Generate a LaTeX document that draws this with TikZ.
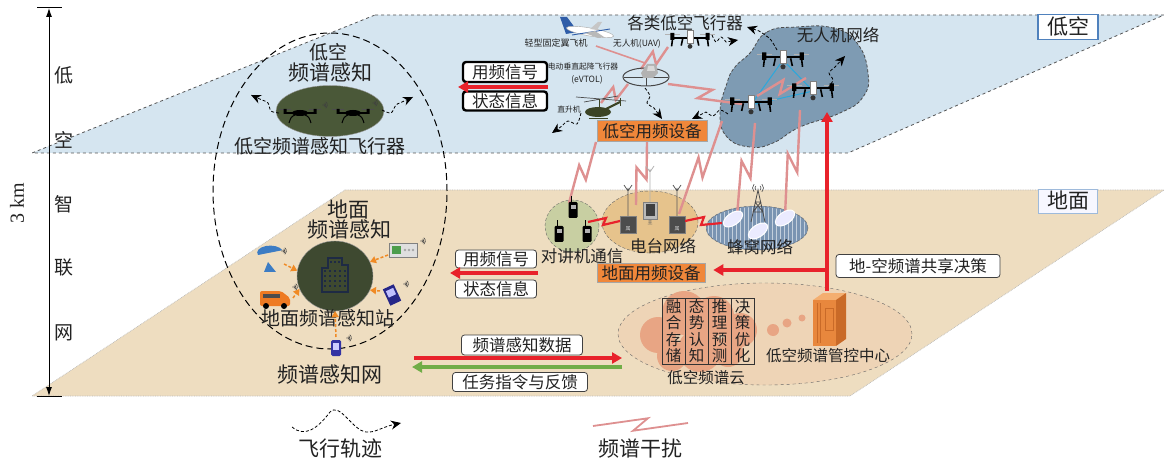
\documentclass[tikz,border=0pt]{standalone}
\usepackage{fontspec}
\setmainfont{Liberation Serif}
\newfontfamily\cjk{Noto Sans CJK SC}
\usetikzlibrary{calc,arrows.meta,shapes.geometric}

\definecolor{skyplane}{HTML}{D5E5F0}
\definecolor{groundplane}{HTML}{EEDDC0}
\definecolor{planeedge}{HTML}{555555}
\definecolor{sensgreen}{HTML}{4A5838}
\definecolor{stationgreen}{HTML}{3E4930}
\definecolor{uavblob}{HTML}{7E9BB3}
\definecolor{devorange}{HTML}{F0873A}
\definecolor{walkiefill}{HTML}{C8CFA2}
\definecolor{radiofill}{HTML}{E6C38C}
\definecolor{cellfill}{HTML}{7A94B2}
\definecolor{cloudfill}{HTML}{EED4B6}
\definecolor{cloudblob}{HTML}{E8A584}
\definecolor{zapcol}{HTML}{DE9090}
\definecolor{sigred}{HTML}{E8222B}
\definecolor{siggreen}{HTML}{70AD47}
\definecolor{linkblue}{HTML}{2AA8DC}
\definecolor{labelblue}{HTML}{4F81BD}
\definecolor{txt}{HTML}{222222}
\definecolor{arrorange}{HTML}{F08A24}
\definecolor{planeblue}{HTML}{2F5DA8}
\definecolor{heli}{HTML}{3C4426}
\definecolor{dishblue}{HTML}{3C7CC4}
\definecolor{vanorange}{HTML}{EE7A22}
\definecolor{navy}{HTML}{1E2A44}
\definecolor{cabfront}{HTML}{E8873D}
\definecolor{cabside}{HTML}{C96A28}
\definecolor{cabtop}{HTML}{F4AE70}

% interference bolt: a straight link with a Z-shaped jog in the middle
\newcommand\intzap[3][]{%
  \draw[zapline,#1] (#2) -- ($(#2)!0.58!(#3)!6pt!90:(#3)$)
    -- ($(#2)!0.42!(#3)!6pt!-90:(#3)$) -- (#3);}

\tikzset{
  t16/.style={font=\cjk\fontsize{16.5}{18}\selectfont},
  t15/.style={font=\cjk\fontsize{15.5}{17}\selectfont},
  t19/.style={font=\cjk\fontsize{19}{21}\selectfont},
  t21/.style={font=\cjk\fontsize{21}{23}\selectfont},
  tiny9/.style={font=\cjk\fontsize{9}{10}\selectfont},
  tiny8/.style={font=\cjk\fontsize{7.8}{9}\selectfont},
  whitebox/.style={draw=black!75, fill=white, rounded corners=3pt, line width=.8, inner sep=0, t16},
  heavybox/.style={whitebox, line width=2.4, draw=black},
  orangebox/.style={fill=devorange, draw=gray!70, line width=.6, inner sep=0, t16},
  sigarrow/.style={draw=sigred, line width=3.2, -{Triangle[length=10pt,width=11pt]}},
  backarrow/.style={draw=siggreen, line width=3.2, -{Triangle[length=10pt,width=11pt]}},
  traj/.style={densely dashed, line width=.8, -{Stealth[length=10pt,width=9pt]}},
  sensarrow/.style={draw=arrorange, densely dashed, line width=1.5, -{Triangle[length=6pt,width=7pt]}},
  zapline/.style={draw=zapcol, line width=2.4},
  redzap/.style={draw=sigred, line width=2.2},
  meshlink/.style={draw=linkblue, line width=1},
  colbox/.style={draw=black!80, line width=.8, minimum width=23, minimum height=66, inner sep=0, align=center, font=\cjk\fontsize{15.5}{16.3}\selectfont},
  pics/quad/.style={code={
    \draw[gray!60,line width=.7] (-31,-7) -- (-13,-7) (13,-7) -- (31,-7);
    \draw[black,line width=2] (-22,-3) -- (22,-3);
    \fill[black] (-24.5,-9) rectangle (-19.5,0) (19.5,-9) rectangle (24.5,0);
    \draw[black,line width=1.6] (-22,0) -- (-23,8) (22,0) -- (23,8) (-9,-2) -- (-11,7) (9,-2) -- (11,7);
    \filldraw[fill=white,draw=gray,line width=.5] (-3.5,-12) rectangle (3.5,4);
    \fill[black!80] (0,8) circle (3);
  }},
  pics/minidrone/.style={code={
    \draw[black!70,line width=.6] (-21,-4) -- (-9,-4) (9,-4) -- (21,-4);
    \draw[black,line width=1.3] (-15,0) -- (15,0);
    \fill[black] (-16.5,-4) rectangle (-13.5,1) (13.5,-4) rectangle (16.5,1);
    \fill[black] (0,0) ellipse (8 and 3);
    \draw[black,line width=1] (-5,2) .. controls (-9,4) .. (-11,10) (5,2) .. controls (9,4) .. (11,10);
  }},
  pics/sig/.style={code={
    \fill[black!75] (0,0) circle (.8);
    \foreach \rr in {2.2,4.2,6.2}{\draw[black!75,line width=.6] (-50:\rr) arc[start angle=-50,end angle=50,radius=\rr];}
  }},
  pics/walkie/.style={code={
    \draw[black,line width=1] (-2,-7) -- (-2,-13);
    \fill[black,rounded corners=1.2] (-4.5,-7) rectangle (4.5,9);
    \fill[gray!60] (-2.5,-4) rectangle (2.5,0);
  }},
}

\begin{document}
\begin{tikzpicture}[x=1pt,y=-1pt,every node/.style={text=txt}]
\useasboundingbox (0,0) rectangle (1164,462);
\fill[white] (0,0) rectangle (1164,462);

% ---------------- the two layers ----------------
\fill[groundplane] (345,190) -- (1164,190) -- (850,396) -- (32,396) -- cycle;
\draw[gray!55,densely dotted,line width=.7] (345,190) -- (1164,190) -- (850,396) -- (32,396) -- cycle;
\fill[skyplane] (375,15) -- (1164,15) -- (848,153) -- (32,153) -- cycle;
\draw[planeedge,dashed,line width=.8] (375,15) -- (1164,15) -- (848,153) -- (32,153) -- cycle;

% ---------------- altitude scale ----------------
\coordinate (altT) at (49,8);
\coordinate (altB) at (49,396);
\draw[line width=1] (37,8) -- (62,8) (37,396) -- (62,396);
\draw[line width=.9,{Latex[length=9pt,width=6pt]}-{Latex[length=9pt,width=6pt]}] (altT) -- (altB);
\node[rotate=90,font=\fontsize{20}{22}\selectfont] (altlbl) at (17,203) {3 km};
\node[t19] (c1) at (64,75) {低};
\node[t19] (c2) at (64,140) {空};
\node[t19] (c3) at (64,204) {智};
\node[t19] (c4) at (64,268) {联};
\node[t19] (c5) at (64,333) {网};

% ---------------- layer tags ----------------
\node[draw=labelblue,line width=1.4,fill=white,minimum width=60,minimum height=25,inner sep=0,t21] (lowlbl) at (1068,27) {低空};
\node[draw=labelblue!55,line width=.8,fill=blue!3,minimum width=59,minimum height=24,inner sep=0,t21] (gndlbl) at (1068,201) {地面};

% ---------------- spectrum sensing network ----------------
\node[ellipse,draw,dash pattern=on 7pt off 4pt,line width=1,minimum width=234,minimum height=316,inner sep=0] (sensnet) at (330,191) {};
\node[t19] (airsensA) at (328,52) {低空};
\node[t21] (airsensB) at (330,73) {频谱感知};
\node[ellipse,fill=sensgreen,draw=black!40,minimum width=108,minimum height=51,inner sep=0] (sensfly) at (330,111) {};
\pic at (300,113) {minidrone};
\pic at (353,113) {minidrone};
\pic[scale=.7] at (323,105) {sig};
\pic[scale=.7] at (373,103) {sig};
\node[t19] (sensflylbl) at (320,146) {低空频谱感知飞行器};
\coordinate (sflyL) at (251,95);
\coordinate (sflyR) at (413,97);
\draw[traj] plot[smooth] coordinates {(279,113) (271,111) (268,103) (262,100)} -- (sflyL);
\draw[traj] plot[smooth] coordinates {(382,110) (391,113) (396,105) (402,102)} -- (sflyR);

\node[t21] (gndsensA) at (348,210) {地面};
\node[t21] (gndsensB) at (349,230) {频谱感知};
\node[ellipse,fill=stationgreen,draw=black!40,minimum width=76,minimum height=70,inner sep=0] (station) at (335,276) {};
% building
\draw[navy,line width=1.3,line join=miter] (322,292) -- (322,268) -- (328,268) -- (328,258) -- (342,258) -- (342,265) -- (348,265) -- (348,292) -- cycle;
\foreach \xx in {325,330,335,340,345}{\foreach \yy in {271,276,281,286}{\fill[navy] (\xx-1,\yy-1) rectangle (\xx+1,\yy+1);}}
\foreach \xx in {331,335,339}{\fill[navy] (\xx-1,261) rectangle (\xx+1,263);}
\node[t19] (stationlbl) at (328,318) {地面频谱感知站};
\node[t21] (sensnetlbl) at (330,375) {频谱感知网};

% dish
\coordinate (dish) at (284,264);
\fill[dishblue] (258,255) arc[start angle=160,end angle=340,x radius=13,y radius=7] -- cycle;
\fill[dishblue] (268,262) -- (264,272) -- (276,272) -- cycle;
\pic[scale=.7] at (282,251) {sig};
% van
\coordinate (van) at (293,298);
\fill[vanorange,rounded corners=2] (260,291) -- (281,291) -- (290,298) -- (290,306) -- (260,306) -- cycle;
\fill[black!70] (263,294) rectangle (280,298);
\fill[black] (266,306) circle (3) (284,306) circle (3);
\pic[scale=.7] at (293,287) {sig};
% analyzer
\coordinate (analyzer) at (388,255);
\filldraw[fill=gray!25,draw=gray] (389,243) rectangle (417,257);
\fill[green!45!black!70] (392,246) rectangle (401,254);
\foreach \xx in {405,409,413}{\fill[gray!70] (\xx,250) circle (1.3);}
\pic[scale=.7] at (421,241) {sig};
% handheld analyser
\coordinate (tablet) at (380,291);
\fill[blue!45!black!85,rotate around={25:(392,295)}] (386,286) rectangle (398,304);
\fill[blue!25!white,rotate around={25:(392,295)}] (388,289) rectangle (396,296);
\pic[scale=.7] at (404,284) {sig};
% portable receiver
\coordinate (phone) at (336,337);
\fill[blue!55!black!80,rounded corners=1.5] (331,340) rectangle (341,356);
\fill[blue!20!white] (333,343) rectangle (339,350);
\pic[scale=.7] at (347,338) {sig};
\draw[sensarrow] (dish) -- (station.172);
\draw[sensarrow] (van) -- (station.200);
\draw[sensarrow] (analyzer) -- (station.22);
\draw[sensarrow] (tablet) -- (station.-22);
\draw[sensarrow] (phone) -- (station.south);

% ---------------- UAV network ----------------
\draw[fill=uavblob,draw=black!70,densely dashed,line width=.8] plot[smooth cycle,tension=.8] coordinates {(750,53) (767,32) (797,27) (833,28) (857,43) (868,73) (863,97) (840,113) (800,127) (773,143) (750,147) (727,137) (720,113) (727,83) (735,67)};
\node[t16] (uavnetlbl) at (838,35) {无人机网络};
\coordinate (d1) at (783,60);
\coordinate (d2) at (813,91);
\coordinate (d3) at (751,105);
\draw[meshlink] (d1) -- (d3) -- (d2) -- cycle;
\intzap{757,96}{806,78}

% ---------------- ground spectrum devices ----------------
\node[ellipse,fill=walkiefill,draw=black!60,densely dashed,minimum width=54,minimum height=52,inner sep=0] (walkienet) at (572,226) {};
\node[ellipse,fill=radiofill,draw=black!60,densely dashed,minimum width=96,minimum height=62,inner sep=0] (radionet) at (650,222) {};
\node[ellipse,fill=cellfill,draw=black!60,densely dashed,minimum width=102,minimum height=44,inner sep=0] (cellnet) at (757,228) {};
\begin{scope}
  \clip (757,228) ellipse (50 and 21);
  \draw[white!55!cellfill,line width=.35,step=4] (700,200) grid (815,255);
\end{scope}

% ---------------- interference links ----------------
\node[orangebox,minimum width=110,minimum height=21] (airdev) at (652,131) {低空用频设备};
\intzap{596,142}{569,203}
\intzap{647,142}{636,205}
\intzap{722,121}{679,214}
\intzap{755,123}{737,216}
\intzap{800,110}{785,216}
\intzap{668,47}{641,69}
\intzap{628,84}{601,103}
\intzap{668,84}{742,104}
\draw[zapline,line width=1.6] (596,46) -- (645,63);

% ---------------- aircraft ----------------
\pic[scale=.85] at (d1) {quad};
\pic[scale=.85] at (d2) {quad};
\pic[scale=.85] at (d3) {quad};
\pic[scale=.8] at (690,40) {quad};
% fixed-wing
\fill[planeblue] (566,34) -- (560,17) -- (567,17) -- (578,32) -- cycle;
\filldraw[fill=white,draw=gray!70,rotate around={-10:(590,32)}] (590,32) ellipse (24 and 4);
\draw[planeblue,line width=.9] (572,35) -- (610,29);
\fill[gray!55] (585,33) -- (598,38) -- (604,37) -- (595,31) -- cycle;
\fill[gray!45] (590,29) -- (598,22) -- (602,22) -- (597,30) -- cycle;
% eVTOL
\draw[gray!55!black,line width=1] (646,77) ellipse (23 and 9);
\draw[gray!55!black,line width=.7] (624,77) -- (668,77) (646,68) -- (646,86);
\fill[gray!60] (641,73) -- (647,64) -- (656,64) -- (658,73) -- (653,78) -- (643,78) -- cycle;
\fill[gray!30] (648,66) -- (654,66) -- (655,71) -- (647,71) -- cycle;
% helicopter
\draw[black!70,line width=.7] (576,97) -- (626,101) (584,102) -- (618,96);
\fill[heli] (598,112) ellipse (13 and 5);
\fill[heli] (586,113) -- (590,108) -- (592,116) -- cycle;
\draw[heli,line width=2.2] (606,109) -- (620,102);
\draw[heli,line width=1] (620,98) -- (620,106) (599,107) -- (599,99);
\draw[heli,line width=1] (589,119) -- (608,119);

\node[t16] (aircraftlbl) at (685,23) {各类低空飞行器};
\node[tiny9] (fixlbl) at (556,43) {轻型固定翼飞机};
\node[font=\cjk\fontsize{8.6}{10}\selectfont] (uavlbl) at (637,44) {无人机(UAV)};
\node[tiny8] (evtollbl) at (583,67) {电动垂直起降飞行器};
\node[font=\cjk\fontsize{8.6}{10}\selectfont] (evtollbl2) at (587,80) {(eVTOL)};
\node[tiny8] (helilbl) at (569,110) {直升机};

% flight trajectories
\draw[traj] plot[smooth] coordinates {(712,35) (716,42) (721,37) (726,42)} -- (738,40);
\draw[traj] plot[smooth] coordinates {(777,50) (771,40) (765,35) (759,31)} -- (747,27);
\draw[traj] plot[smooth] coordinates {(828,88) (833,80) (829,73) (835,67)} -- (845,56);
\draw[traj] plot[smooth] coordinates {(645,88) (650,96) (647,103) (654,108)} -- (662,119);
\draw[traj] plot[smooth] coordinates {(581,113) (577,124) (568,121) (562,126)} -- (552,133);
\draw[traj] plot[smooth] coordinates {(728,114) (720,110) (713,116) (706,112)} -- (692,119);

% ---------------- ground devices ----------------
\pic at (573,209) {walkie};
\pic at (559,233) {walkie};
\pic at (587,233) {walkie};
\draw[gray!70!black,line width=.8] (628,216) -- (628,188) (624,185) -- (628,191) -- (632,185);
\draw[gray!70!black,line width=.8] (677,216) -- (677,188) (673,185) -- (677,191) -- (681,185);
\draw[gray!60,line width=.8] (650,203) -- (650,169) (646,166) -- (650,172) -- (654,166);
\filldraw[fill=black!70,draw=black!50] (620,216) rectangle (636,233);
\filldraw[fill=black!70,draw=black!50] (669,216) rectangle (685,233);
\filldraw[fill=gray!55,draw=black!50] (643,202) rectangle (657,219);
\fill[black!75] (645.5,204.5) rectangle (654.5,216.5);
\node[font=\cjk\fontsize{5}{6}\selectfont,text=gray!40,inner sep=0] (slaveA) at (628,229) {属};
\node[font=\cjk\fontsize{5}{6}\selectfont,text=gray!70!black,inner sep=0] (master) at (650,223) {主};
\node[font=\cjk\fontsize{5}{6}\selectfont,text=gray!40,inner sep=0] (slaveB) at (677,229) {属};
% cell tower and coverage cells
\draw[gray!60!black,line width=.8] (751,222) -- (758,190) -- (765,222) (753,212) -- (763,212) (755,202) -- (761,202) (753,212) -- (761,202) (763,212) -- (755,202);
\foreach \rr in {3,5.5}{\draw[gray!60!black,line width=.6] (758,188) ++(-45:\rr) arc[start angle=-45,end angle=45,radius=\rr];
  \draw[gray!60!black,line width=.6] (758,188) ++(135:\rr) arc[start angle=135,end angle=225,radius=\rr];}
\foreach \cx/\cy/\ang in {733/219/35,758/231/35,785/218/35}{
  \filldraw[fill=blue!8,draw=white,line width=1,rotate around={\ang:(\cx,\cy)}] (\cx,\cy) ellipse (11 and 6);}
\draw[redzap] (588,222) -- (606,218) -- (603,225) -- (620,221);
\draw[redzap] (685,221) -- (704,217) -- (701,225) -- (722,223);
\node[t16] (walkielbl) at (582,256) {对讲机通信};
\node[t16] (radiolbl) at (663,246) {电台网络};
\node[t16] (celllbl) at (760,247) {蜂窝网络};
\node[orangebox,minimum width=108,minimum height=19] (gnddev) at (651,273) {地面用频设备};

% ---------------- spectrum cloud ----------------
\node[ellipse,fill=cloudfill,draw=black!60,dashed,minimum width=294,minimum height=102,inner sep=0] (cloud) at (765,334) {};
\foreach \cx/\cy/\cr in {658/335/18,684/313/22,714/316/20,740/330/17,700/350/22,672/356/15,728/352/15}{
  \fill[cloudblob] (\cx,\cy) circle (\cr);}
\node[colbox] (col1) at (673.5,331) {融\\合\\存\\储};
\node[colbox] (col2) at (696.5,331) {态\\势\\认\\知};
\node[colbox] (col3) at (719.5,331) {推\\理\\预\\测};
\node[colbox] (col4) at (742.5,331) {决\\策\\优\\化};
\fill[cloudblob] (773,330) circle (6) (787,323) circle (4.5) (802,318) circle (3.5);
\fill[cabtop] (813,300) -- (823,293) -- (846,293) -- (836,300) -- cycle;
\fill[cabside] (836,300) -- (846,293) -- (846,339) -- (836,346) -- cycle;
\fill[cabfront] (813,300) rectangle (836,346);
\draw[cabside,line width=.6] (817,303) -- (817,343) (820,303) -- (820,343);
\draw[cabside,line width=.6] (825,308) rectangle (833,330);
\node[t15] (ctrllbl) at (828,356) {低空频谱管控中心};
\node[t15] (cloudlbl) at (706,378) {低空频谱云};

% ---------------- data flows ----------------
\node[heavybox,minimum width=84,minimum height=20] (airsig) at (505,72) {用频信号};
\node[heavybox,minimum width=84,minimum height=19] (airstate) at (505,101) {状态信息};
\coordinate (airsigR) at (548,87);
\coordinate (airsigL) at (458,87);
\draw[sigarrow] (airsigR) -- (airsigL);

\node[whitebox,minimum width=81,minimum height=18] (gndsig) at (496,259) {用频信号};
\node[whitebox,minimum width=81,minimum height=18] (gndstate) at (496,289) {状态信息};
\coordinate (gndsigR) at (538,273);
\coordinate (gndsigL) at (450,273);
\draw[sigarrow] (gndsigR) -- (gndsigL);

\node[whitebox,minimum width=121,minimum height=20] (sensdata) at (522,345) {频谱感知数据};
\node[whitebox,minimum width=135,minimum height=19] (taskfb) at (520,382) {任务指令与反馈};
\coordinate (netR) at (622,358);
\coordinate (netL) at (414,358);
\coordinate (netR2) at (622,367);
\coordinate (netL2) at (412,367);
\draw[sigarrow] (netL) -- (netR);
\draw[backarrow] (netR2) -- (netL2);

\coordinate (cloudtop) at (827,291);
\coordinate (uavnet) at (827,112);
\coordinate (branch) at (827,270);
\draw[sigarrow,line width=3.6] (cloudtop) -- (uavnet);
\draw[sigarrow] (branch) -- ([xshift=8pt]gnddev.east |- branch);
\node[whitebox,minimum width=164,minimum height=23] (sharelbl) at (918,266) {地-空频谱共享决策};

% ---------------- legend ----------------
\coordinate (lgtrajS) at (292,427);
\coordinate (lgtrajE) at (401,423);
\draw[traj] (lgtrajS) .. controls (305,438) and (318,428) .. (330,412) .. controls (340,402) and (352,430) .. (366,432) .. controls (375,433) and (382,427) .. (lgtrajE);
\node[t21] (lgtraj) at (340,449) {飞行轨迹};
\coordinate (lgzapS) at (593,426);
\coordinate (lgzapE) at (688,423);
\intzap[line width=1.8]{lgzapS}{lgzapE}
\node[t21] (lgzap) at (640,449) {频谱干扰};
\end{tikzpicture}
\end{document}
